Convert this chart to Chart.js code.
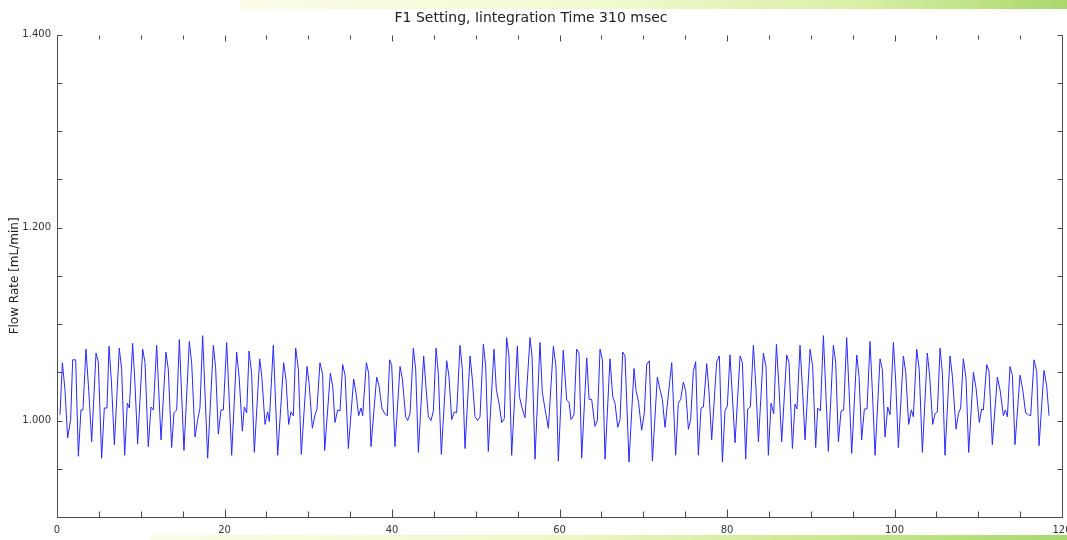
<!DOCTYPE html>
<html>
<head>
<meta charset="utf-8">
<title>F1 Setting</title>
<script src="https://cdn.jsdelivr.net/npm/chart.js@4/dist/chart.umd.min.js"></script>
<style>
  body { margin: 0; background: #fff; }
  #wrap { position: relative; width: 1067px; height: 540px; }
  .band { position: absolute; right: 0; }
  #bandTop { left: 240px; top: 0; height: 9px;
    background: linear-gradient(to right, #fbfde9, #f1f9cf 45%, #d9efa6 75%, #a9d86c); }
  #bandBottom { left: 150px; bottom: 0; height: 5px;
    background: linear-gradient(to right, #fbfde9, #eef8c6 45%, #c9e78e 75%, #a9d86c); }
  canvas { position: absolute; left: 0; top: 0; }
</style>
</head>
<body>
<div id="wrap">
  <div class="band" id="bandTop"></div>
  <div class="band" id="bandBottom"></div>
  <canvas id="flow_chart" width="1067" height="540"></canvas>
</div>
<script>
/*
 * Flow rate, time in seconds
 */
const timeSec = [
  0.36,0.64,0.95,1.27,1.63,1.87,2.23,2.55,2.86,3.10,3.46,3.80,4.14,4.66,4.93,5.33,5.65,5.97,6.21,6.50,
  6.85,7.44,7.72,8.08,8.40,8.64,9.03,9.30,9.63,10.23,10.51,10.90,11.22,11.50,11.90,12.42,13.01,13.29,13.69,13.97,
  14.29,14.61,15.16,15.80,16.08,16.48,16.78,17.07,17.39,17.99,18.67,18.94,19.26,19.58,19.86,
  20.26,20.86,21.45,21.75,22.13,22.37,22.65,22.93,23.24,23.56,24.20,24.45,24.84,25.15,25.35,25.83,26.35,27.06,27.35,27.66,
  27.94,28.22,28.50,28.82,29.17,29.85,30.10,30.49,30.81,31.04,31.40,31.72,31.96,32.64,32.92,33.19,33.51,33.79,34.11,34.40,
  34.79,35.42,35.70,36.02,36.30,36.50,36.94,37.22,37.49,38.17,38.45,38.81,39.16,39.44,39.72,39.96,40.36,
  40.96,41.24,41.63,41.87,42.15,42.55,42.83,43.15,43.78,44.02,44.34,44.66,44.94,45.26,45.53,45.89,46.53,46.80,47.13,47.44,
  47.72,48.12,48.40,48.72,49.32,49.60,49.91,50.23,50.51,50.91,51.19,51.50,52.18,52.46,52.82,53.10,53.41,53.69,53.97,54.29,
  54.97,55.21,55.56,55.88,56.48,56.72,57.08,57.67,57.95,58.27,58.67,59.27,59.58,59.86,
  60.45,60.86,61.14,61.38,61.73,62.05,62.33,62.65,63.25,63.53,63.84,64.24,64.52,64.84,65.12,65.44,66.03,66.35,66.63,66.95,
  67.23,67.55,67.82,68.30,68.90,69.14,69.42,69.81,70.13,70.41,70.73,71.09,71.68,72.00,72.28,72.60,73.00,73.40,73.87,74.19,
  74.47,74.79,75.07,75.39,75.66,75.98,76.26,76.58,76.90,77.18,77.58,77.85,78.17,78.77,79.09,79.45,79.76,80.04,80.36,80.96,
  81.56,81.84,82.23,82.47,82.79,83.15,83.45,83.75,84.34,84.66,84.94,85.26,85.58,85.90,86.20,86.53,87.13,87.41,87.81,88.12,
  88.36,88.72,89.00,89.32,89.92,90.23,90.59,90.83,91.15,91.51,91.80,92.10,92.70,92.98,93.30,93.62,93.93,94.29,94.58,94.89,
  95.49,95.77,96.08,96.40,96.72,97.08,97.36,97.68,98.27,98.55,98.87,99.19,99.47,99.87,100.15,100.46,
  101.06,101.34,101.69,102.01,102.25,102.65,102.95,103.33,103.92,104.20,104.56,104.84,105.12,105.44,105.72,106.03,106.63,106.91,107.35,107.63,
  107.90,108.22,108.54,108.86,109.42,109.73,110.13,110.41,110.61,111.01,111.29,111.68,112.28,112.60,113.00,113.24,113.48,113.79,114.07,114.39,
  114.99,115.31,115.66,115.98,116.26,116.66,116.98,117.26,117.85,118.17,118.45
]

const flowRate = [
  1.006,1.060,1.032,0.982,1.001,1.063,1.063,0.963,1.011,1.011,1.074,1.030,0.978,1.070,1.061,0.961,1.013,1.013,1.077,1.040,
  0.975,1.075,1.053,0.964,1.018,1.013,1.080,1.040,0.976,1.074,1.060,0.973,1.014,1.011,1.078,0.980,1.071,1.053,0.972,1.008,
  1.011,1.084,0.969,1.082,1.060,0.983,1.000,1.013,1.088,0.961,1.078,1.055,0.986,1.011,1.011,
  1.081,0.964,1.071,1.045,0.989,1.014,1.008,1.072,1.049,0.967,1.064,1.046,0.996,1.009,0.999,1.078,0.964,1.060,1.042,0.996,
  1.009,1.005,1.075,1.053,0.965,1.056,1.039,0.992,1.006,1.012,1.060,1.048,0.969,1.049,1.036,0.998,1.011,1.010,1.058,1.047,
  0.971,1.043,1.029,1.005,1.013,1.005,1.060,1.049,0.973,1.045,1.036,1.012,1.007,1.005,1.063,1.058,0.973,
  1.056,1.043,1.004,1.000,1.007,1.075,1.053,0.967,1.067,1.039,1.004,1.000,1.010,1.075,1.049,0.965,1.062,1.046,1.001,1.009,
  1.008,1.078,1.053,0.971,1.067,1.042,1.004,1.000,1.004,1.079,1.056,0.968,1.074,1.032,1.016,0.998,1.002,1.086,1.067,0.964,
  1.077,1.025,1.012,1.003,1.086,1.067,0.960,1.081,1.029,1.012,0.992,1.077,1.056,0.958,
  1.073,1.021,1.019,1.001,1.006,1.074,1.070,0.961,1.065,1.022,1.022,0.994,1.000,1.074,1.063,0.960,1.064,1.025,1.018,0.993,
  1.001,1.071,1.067,0.957,1.054,1.031,1.020,0.990,1.008,1.058,1.062,0.958,1.045,1.032,1.022,0.993,1.027,1.060,0.964,1.018,
  1.022,1.040,1.031,0.991,1.001,1.051,1.061,0.964,1.013,1.014,1.059,1.030,0.980,1.061,1.067,0.957,1.010,1.015,1.068,0.977,
  1.067,1.060,0.960,1.012,1.014,1.078,1.035,0.978,1.070,1.056,0.964,1.018,1.007,1.079,1.035,0.978,1.068,1.060,0.971,1.017,
  1.012,1.078,1.035,0.980,1.074,1.056,0.972,1.013,1.010,1.088,1.030,0.968,1.078,1.060,0.978,1.010,1.011,1.086,1.030,0.966,
  1.068,1.046,0.980,1.012,1.012,1.082,1.030,0.964,1.064,1.053,0.983,1.014,1.006,1.081,1.040,0.972,
  1.067,1.050,0.996,1.011,1.004,1.074,1.053,0.967,1.070,1.046,0.996,1.007,1.009,1.075,1.049,0.964,1.067,1.046,0.991,1.007,
  1.013,1.064,1.044,0.967,1.050,1.034,0.998,1.012,1.011,1.058,1.051,0.975,1.045,1.032,1.005,1.011,1.004,1.056,1.047,0.975,
  1.047,1.032,1.008,1.006,1.005,1.063,1.051,0.974,1.052,1.036,1.005
]

// axis ranges and labelled ticks
const xRange = [0, 120]
const xMinorStep = 5
const xLabelStep = 20
const yRange = [0.9, 1.4]
const yMinorStep = 0.05
const yLabelStep = 0.2

const axisColor = "#4a4a4a"
const lineColor = "rgb(40, 40, 255)"

Chart.defaults.font.family = "'DejaVu Sans', Verdana, sans-serif"
Chart.defaults.color = "#333"

/*
 * Frame and inward pointing tick marks, like the original plot
 */
const innerTicks = {
    id: "innerTicks",
    afterDatasetsDraw(chart) {
        const ctx = chart.ctx
        const a = chart.chartArea
        const x = chart.scales.x
        const y = chart.scales.y
        const L = Math.round(a.left) + 0.5
        const R = Math.round(a.right) + 0.5
        const T = Math.round(a.top) + 0.5
        const B = Math.round(a.bottom) + 0.5

        ctx.save()
        ctx.strokeStyle = axisColor
        ctx.lineWidth = 1
        ctx.beginPath()
        // left, bottom, right edges
        ctx.moveTo(L, T); ctx.lineTo(L, B); ctx.lineTo(R, B); ctx.lineTo(R, T)

        y.ticks.forEach(t => {
            const py = Math.round(y.getPixelForValue(t.value)) + 0.5
            ctx.moveTo(L, py); ctx.lineTo(L + 5, py)
            ctx.moveTo(R, py); ctx.lineTo(R - 5, py)
        })
        x.ticks.forEach(t => {
            const px = Math.round(x.getPixelForValue(t.value)) + 0.5
            const major = Math.abs(t.value % xLabelStep) < 1e-9
            ctx.moveTo(px, B); ctx.lineTo(px, B - (major ? 8 : 6))
            ctx.moveTo(px, T); ctx.lineTo(px, T + (major ? 6 : 4))
        })
        ctx.stroke()
        ctx.restore()
    }
}

let flowData = {
    datasets: [{
        label: "Flow Rate",
        data: timeSec.map((t, i) => ({ x: t, y: flowRate[i] })),
        borderColor: lineColor,
        borderWidth: 1,
        pointRadius: 0,
        tension: 0,
        fill: false
    }]
}

let flowOptions = {
    responsive: false,
    animation: false,
    layout: { padding: { left: 0, right: 5, top: 0, bottom: 0 } },
    plugins: {
        legend: { display: false },
        tooltip: { enabled: false },
        title: {
            display: true,
            text: "F1 Setting, Iintegration Time 310 msec",
            color: "#222",
            font: { size: 14, weight: "normal" },
            padding: { top: 10, bottom: 8 }
        }
    },
    scales: {
        x: {
            type: "linear",
            min: xRange[0],
            max: xRange[1],
            grid: { display: false, drawTicks: false },
            border: { display: false },
            ticks: {
                stepSize: xMinorStep,
                autoSkip: false,
                maxRotation: 0,
                padding: 7,
                font: { size: 10 },
                callback: v => (Math.abs(v % xLabelStep) < 1e-9 ? String(v) : "")
            },
            afterFit(s) {
                s.height = 23
                s.paddingLeft = 0
                s.paddingRight = 0
            }
        },
        y: {
            min: yRange[0],
            max: yRange[1],
            grid: { display: false, drawTicks: false },
            border: { display: false },
            title: {
                display: true,
                text: "Flow Rate [mL/min]",
                font: { size: 12 },
                color: "#222",
                padding: { top: 8, bottom: 0 }
            },
            ticks: {
                stepSize: yMinorStep,
                autoSkip: false,
                padding: 6,
                font: { size: 10 },
                callback: v => {
                    const k = v / yLabelStep
                    return Math.abs(k - Math.round(k)) < 1e-6 ? v.toFixed(3) : ""
                }
            },
            afterFit(s) {
                s.width = 57
                s.paddingTop = 0
                s.paddingBottom = 0
            }
        }
    }
}

var flowCanvas = document.getElementById("flow_chart")

var flowChart = new Chart(flowCanvas, {
    type: "line",
    data: flowData,
    options: flowOptions,
    plugins: [innerTicks]
})
</script>
</body>
</html>
